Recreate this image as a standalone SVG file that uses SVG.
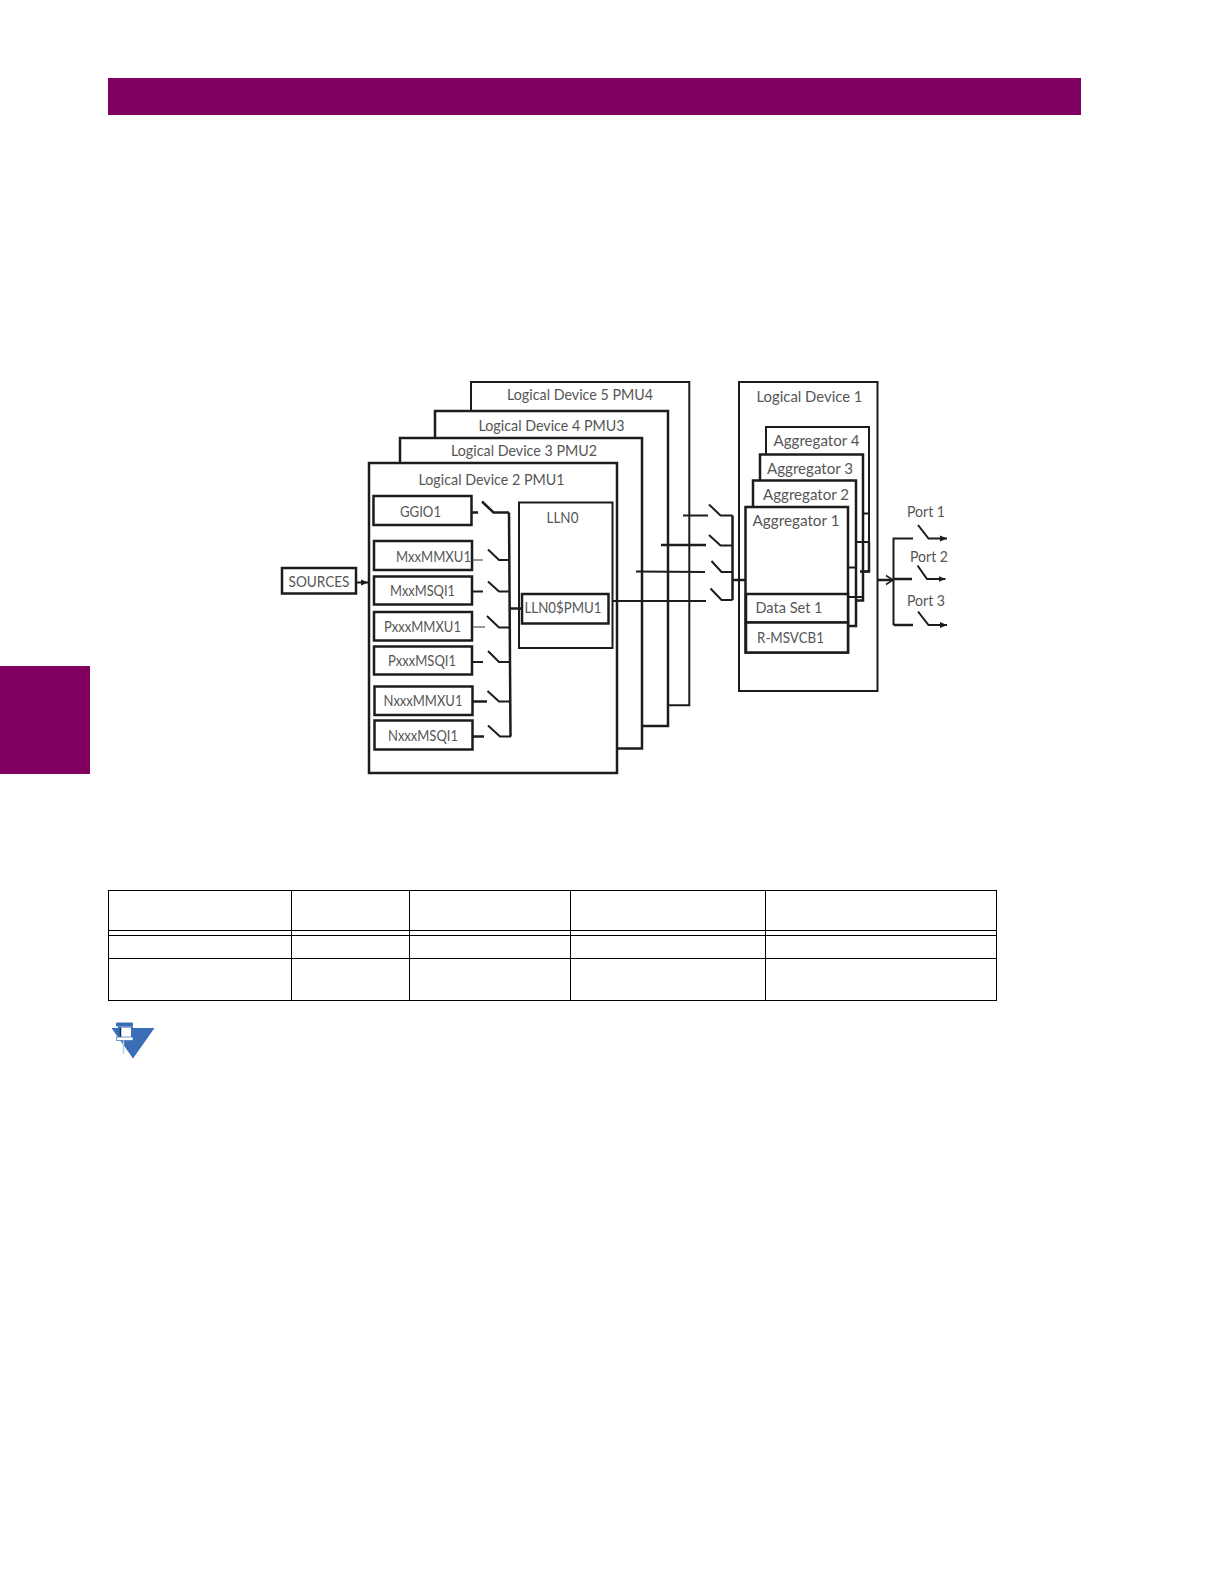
<svg xmlns="http://www.w3.org/2000/svg" width="1224" height="1584" viewBox="0 0 1224 1584">
<defs>
<style>
.b{fill:#fff;stroke:#1c1c1c;stroke-width:2}
.t{fill:#fff;stroke:#1c1c1c;stroke-width:2.500}
.l{fill:none;stroke:#1c1c1c;stroke-width:2}
.k{fill:none;stroke:#1c1c1c;stroke-width:2.500}
.h{fill:none;stroke:#333;stroke-width:1}
.x{font-family:"Lato","Noto Sans",sans-serif;font-size:15px;fill:#565656;text-anchor:middle}
.tb{fill:none;stroke:#000;stroke-width:1}
</style>
<marker id="a" markerUnits="userSpaceOnUse" markerWidth="8" markerHeight="8" refX="7" refY="4" orient="auto"><path d="M0 1L7 4L0 7Z" fill="#1c1c1c"/></marker>
<marker id="o" markerUnits="userSpaceOnUse" markerWidth="10" markerHeight="12" refX="8" refY="6" orient="auto"><path d="M1 1.500L8 6L1 10.500" fill="none" stroke="#1c1c1c" stroke-width="1.500"/></marker>
</defs>
<rect width="1224" height="1584" fill="#fff"/>
<rect id="header-bar" x="108" y="78" width="973" height="37" fill="#800060"/>
<rect id="side-tab" x="0" y="666" width="90" height="108" fill="#800060"/>

<g id="ld5"><path class="b" d="M471 462V382H689.300V705.300H620"/><text class="x" x="580" y="400" textLength="146" lengthAdjust="spacingAndGlyphs">Logical Device 5 PMU4</text></g>
<g id="ld4"><path class="t" d="M435 462V411H668V726H620"/><text class="x" x="551.500" y="430.500" textLength="146" lengthAdjust="spacingAndGlyphs">Logical Device 4 PMU3</text></g>
<g id="ld3"><path class="t" d="M400 462V438H642V748.500H617"/><text class="x" x="524" y="455.500" textLength="146" lengthAdjust="spacingAndGlyphs">Logical Device 3 PMU2</text></g>
<g id="ld2"><rect class="t" x="369" y="463" width="248" height="310"/><text class="x" x="491.500" y="485" textLength="146" lengthAdjust="spacingAndGlyphs">Logical Device 2 PMU1</text></g>

<g id="sources"><rect class="t" x="282" y="568" width="74" height="25.500"/><text class="x" x="319" y="587" textLength="61" lengthAdjust="spacingAndGlyphs">SOURCES</text></g>
<g id="ggio1"><rect class="t" x="373.500" y="496" width="98" height="29"/><text class="x" x="420.500" y="517" textLength="41" lengthAdjust="spacingAndGlyphs">GGIO1</text></g>
<g id="mxxmmxu1"><rect class="t" x="374" y="541" width="98" height="29"/><text class="x" x="433.500" y="562" textLength="75" lengthAdjust="spacingAndGlyphs">MxxMMXU1</text></g>
<g id="mxxmsqi1"><rect class="t" x="374" y="576.500" width="98" height="28"/><text class="x" x="422.500" y="596" textLength="65" lengthAdjust="spacingAndGlyphs">MxxMSQI1</text></g>
<g id="pxxxmmxu1"><rect class="t" x="374" y="612" width="98" height="28.500"/><text class="x" x="422.500" y="632" textLength="77" lengthAdjust="spacingAndGlyphs">PxxxMMXU1</text></g>
<g id="pxxxmsqi1"><rect class="t" x="374" y="646.500" width="98" height="28"/><text class="x" x="422" y="666" textLength="68" lengthAdjust="spacingAndGlyphs">PxxxMSQI1</text></g>
<g id="nxxxmmxu1"><rect class="t" x="374.500" y="686.500" width="98" height="28.500"/><text class="x" x="423" y="706" textLength="79" lengthAdjust="spacingAndGlyphs">NxxxMMXU1</text></g>
<g id="nxxxmsqi1"><rect class="t" x="374.500" y="720.500" width="98" height="29"/><text class="x" x="423" y="740.500" textLength="70" lengthAdjust="spacingAndGlyphs">NxxxMSQI1</text></g>
<g id="lln0"><rect class="b" x="519" y="502.500" width="93.500" height="145.500"/><text class="x" x="562.500" y="523" textLength="32" lengthAdjust="spacingAndGlyphs">LLN0</text></g>
<g id="lln0pmu1"><rect class="t" x="522" y="594" width="86.500" height="29.500"/><text class="x" x="563" y="613" textLength="77" lengthAdjust="spacingAndGlyphs">LLN0$PMU1</text></g>

<g id="ld1"><rect class="b" x="739" y="382" width="138.500" height="309"/><text class="x" x="809.500" y="402" textLength="106" lengthAdjust="spacingAndGlyphs">Logical Device 1</text></g>
<g id="agg4"><path class="b" d="M766 510V427H869V571.500H860"/><text class="x" x="816.500" y="446" textLength="86" lengthAdjust="spacingAndGlyphs">Aggregator 4</text></g>
<g id="agg3"><path class="t" d="M760 510V454.500H863V600.500H855"/><text class="x" x="810" y="474" textLength="86" lengthAdjust="spacingAndGlyphs">Aggregator 3</text></g>
<g id="agg2"><path class="t" d="M753 510V480.500H856V626H848"/><text class="x" x="806" y="500" textLength="86" lengthAdjust="spacingAndGlyphs">Aggregator 2</text></g>
<g id="agg1"><rect class="t" x="745.500" y="507" width="102.500" height="145.500"/><text class="x" x="796" y="526" textLength="87" lengthAdjust="spacingAndGlyphs">Aggregator 1</text></g>
<g id="dataset1"><rect class="t" x="746" y="594" width="102" height="28.500"/><text class="x" x="789" y="613" textLength="67" lengthAdjust="spacingAndGlyphs">Data Set 1</text></g>
<g id="rmsvcb1"><rect class="t" x="746" y="622.500" width="102" height="30"/><text class="x" x="790.500" y="643" textLength="67" lengthAdjust="spacingAndGlyphs">R-MSVCB1</text></g>
<g id="port1"><text class="x" x="926" y="517" textLength="38" lengthAdjust="spacingAndGlyphs">Port 1</text></g>
<g id="port2"><text class="x" x="929" y="562" textLength="38" lengthAdjust="spacingAndGlyphs">Port 2</text></g>
<g id="port3"><text class="x" x="926" y="606" textLength="38" lengthAdjust="spacingAndGlyphs">Port 3</text></g>

<g id="connectors">
<path class="l" d="M356.500 582.500H368" marker-end="url(#a)"/>
<path class="k" d="M471.500 512.500H478M482 501.500L493.500 512.500H509"/>
<path class="h" d="M472 560H483"/><path class="l" d="M488 549.500L499 560H509"/>
<path class="l" d="M472 591.500H483M488 581.500L499 591.500H509"/>
<path class="h" d="M472 627H485"/><path class="l" d="M487 616L499 627.500H509"/>
<path class="l" d="M472 662H483M488 651L499 662H509"/>
<path class="k" d="M472.500 701.500H487"/><path class="l" d="M487.500 691L499 701.500H510"/>
<path class="k" d="M472.500 736.500H484"/><path class="l" d="M488 725.500L500 736.500H511"/>
<path class="k" d="M509 512.500L510.500 736.500"/>
<path class="k" d="M510 608.500H522"/>
<path class="l" d="M683 515.500H708M709 504.500L720.500 515.500H732.500"/>
<path class="k" d="M661 545H706"/><path class="l" d="M709 535L720.500 545.500H732.500"/>
<path class="l" d="M636 571.500L705 572M711.500 561L721.500 572H732.500"/>
<path class="l" d="M612.500 601H706M710.500 588.500L721.500 600H732.500"/>
<path class="k" d="M732.500 515.500V600"/>
<path class="k" d="M732.500 580H745"/>
<path class="l" d="M863 513.500H869M856 542H869M848 567.500H856M848 597H863"/>
<path class="k" d="M869 542V571.500H860"/>
<path class="k" d="M878 580H893" marker-end="url(#o)"/>
<path class="l" d="M913 538.500H893.500V625"/>
<path class="k" d="M893.500 625H913"/>
<path class="k" d="M893.500 579H912"/>
<path class="l" d="M918 525L928.500 538.500H947" marker-end="url(#a)"/>
<path class="l" d="M917.500 565.500L927 579H945.500" marker-end="url(#a)"/>
<path class="l" d="M918 611.500L928.500 625H947" marker-end="url(#a)"/>
</g>

<g id="table">
<rect class="tb" x="108.500" y="890.500" width="888" height="110"/>
<path class="tb" d="M108.500 930.500H996.500M108.500 935.500H996.500M108.500 958.500H996.500M291.500 890.500V1000.500M409.500 890.500V1000.500M570.500 890.500V1000.500M765.500 890.500V1000.500"/>
</g>

<g id="note-icon">
<path d="M111.500 1028H154.500L133 1058.500Z" fill="#3a6fb7"/>
<rect x="116" y="1022.500" width="17" height="4" rx="1" fill="#3a6fb7"/>
<rect x="118" y="1026.500" width="15" height="10.500" fill="#3a6fb7"/>
<rect x="120" y="1027.500" width="11" height="9.500" fill="#fff"/>
<path d="M120.500 1027.500V1037" stroke="#14284a" stroke-width="1.500" fill="none"/>
<rect x="116.500" y="1037" width="16.500" height="3.500" fill="#fff" stroke="#3a6fb7" stroke-width="0.700"/>
<path d="M123.500 1040.500V1054" stroke="#b9cde8" stroke-width="1.500" fill="none"/>
</g>
</svg>
